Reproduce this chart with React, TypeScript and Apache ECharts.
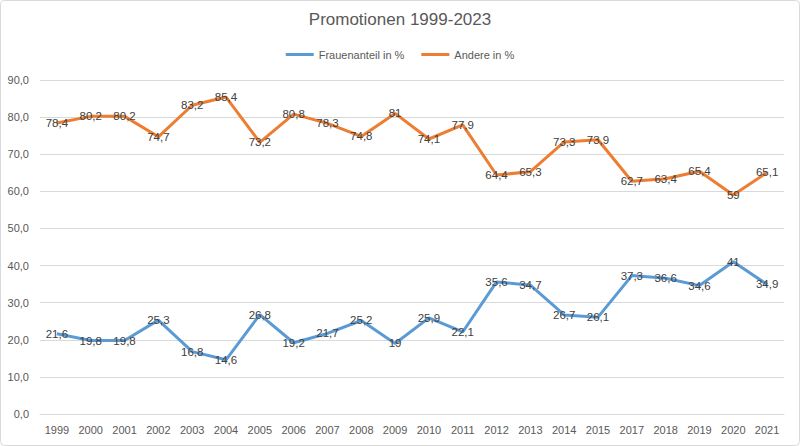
import React, { useEffect, useRef } from "react";
import * as echarts from "echarts";

const years = ["1999","2000","2001","2002","2003","2004","2005","2006","2007","2008","2009","2010","2011","2012","2013","2014","2015","2017","2018","2019","2020","2021"];
const frauen = [21.6,19.8,19.8,25.3,16.8,14.6,26.8,19.2,21.7,25.2,19,25.9,22.1,35.6,34.7,26.7,26.1,37.3,36.6,34.6,41,34.9];
const andere = [78.4,80.2,80.2,74.7,83.2,85.4,73.2,80.8,78.3,74.8,81,74.1,77.9,64.4,65.3,73.3,73.9,62.7,63.4,65.4,59,65.1];

const FONT = "'Liberation Sans', Arial, sans-serif";

export default function App() {
  const ref = useRef<HTMLDivElement>(null);
  useEffect(() => {
    if (!ref.current) return;
    const chart = echarts.init(ref.current, null, { renderer: "svg" });
    const fmt = (p: any) => String(p.value).replace(".", ",");
    const label = {
      show: true,
      position: "inside",
      color: "#404040",
      fontFamily: FONT,
      fontSize: 11.5,
      formatter: fmt,
    };
    chart.setOption({
      animation: false,
      backgroundColor: "#ffffff",
      title: {
        text: "Promotionen 1999-2023",
        left: "center",
        top: 6,
        textStyle: { color: "#595959", fontFamily: FONT, fontSize: 17, fontWeight: "normal" },
      },
      legend: {
        top: 44,
        left: "center",
        itemWidth: 28,
        itemHeight: 3,
        itemGap: 17,
        icon: "rect",
        textStyle: { color: "#595959", fontFamily: FONT, fontSize: 11 },
        data: ["Frauenanteil in %", "Andere in %"],
      },
      graphic: [
        {
          type: "rect",
          shape: { x: 0.5, y: 0.5, width: 799, height: 445, r: 4 },
          style: { fill: "none", stroke: "#d9d9d9", lineWidth: 1 },
          silent: true,
        },
      ],
      grid: { left: 40, right: 16, top: 80, bottom: 32 },
      xAxis: {
        type: "category",
        data: years,
        boundaryGap: true,
        axisLine: { show: true, lineStyle: { color: "#d9d9d9" } },
        axisTick: { show: false },
        axisLabel: { color: "#595959", fontFamily: FONT, fontSize: 11, margin: 10, interval: 0 },
      },
      yAxis: {
        type: "value",
        min: 0,
        max: 90,
        interval: 10,
        axisLine: { show: false },
        axisTick: { show: false },
        splitLine: { lineStyle: { color: "#d9d9d9" } },
        axisLabel: {
          color: "#595959",
          fontFamily: FONT,
          fontSize: 11,
          margin: 11,
          formatter: (v: number) => v.toFixed(1).replace(".", ","),
        },
      },
      series: [
        {
          name: "Frauenanteil in %",
          type: "line",
          data: frauen,
          color: "#5b9bd5",
          symbol: "circle",
          symbolSize: 0,
          lineStyle: { width: 3, color: "#5b9bd5" },
          label,
        },
        {
          name: "Andere in %",
          type: "line",
          data: andere,
          color: "#ed7d31",
          symbol: "circle",
          symbolSize: 0,
          lineStyle: { width: 3, color: "#ed7d31" },
          label,
        },
      ],
    });
    return () => chart.dispose();
  }, []);
  return (
    <div
      ref={ref}
      style={{ position: "fixed", left: 0, top: 0, width: 800, height: 446 }}
    />
  );
}
